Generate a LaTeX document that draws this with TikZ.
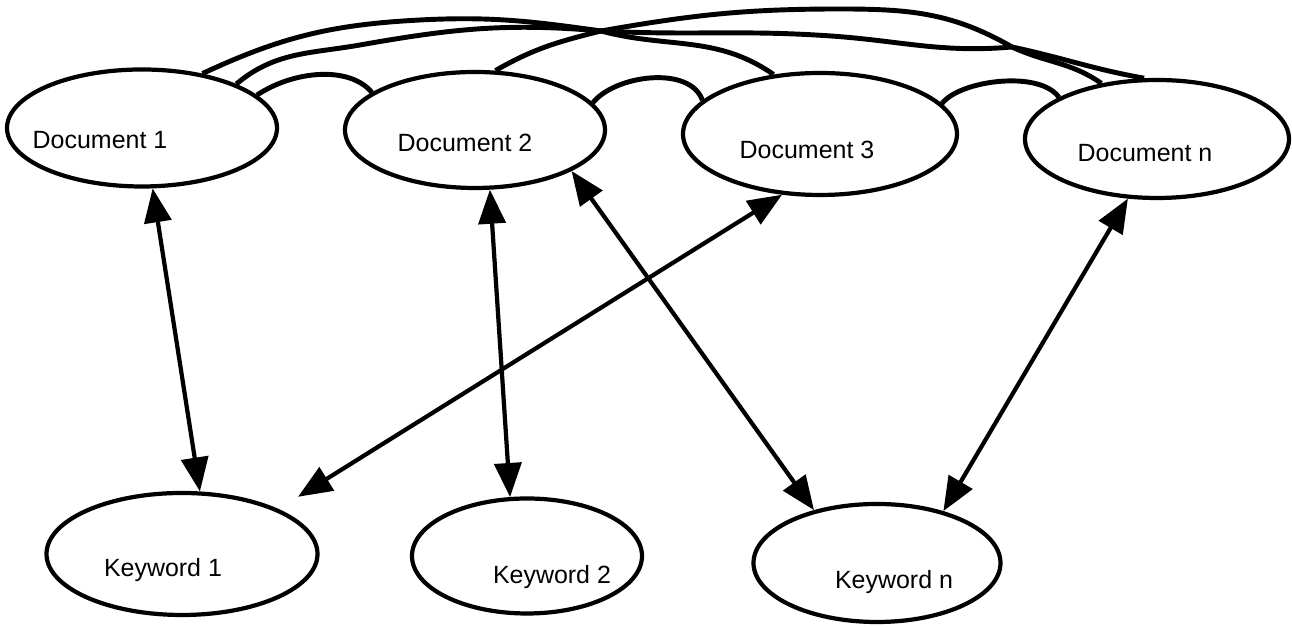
\documentclass[tikz,border=0pt]{standalone}
\usepackage{fontspec}
\setmainfont{Liberation Sans}
\usetikzlibrary{arrows.meta, shapes.geometric}

\begin{document}
\begin{tikzpicture}
		\tikzstyle{docnode} = [shape=ellipse, draw=black, very thick, inner sep=0]
		\tikzstyle{lbl} = [font=\fontsize{7.1}{8.5}\selectfont, inner sep=0]
		\tikzstyle{biarrow} = [>={Triangle[length=3.4mm,width=2.7mm]}, <->, very thick]
		\tikzstyle{link} = [draw, line width=1.4pt]
		\useasboundingbox (0,0) rectangle (12.92,6.27);
		\fill [white] (0,0) rectangle (12.92,6.27);
		% documents
		\node [docnode, minimum width=2.70cm, minimum height=1.17cm, label={[lbl, shift={(-0.42,-0.12)}]center:Document 1}] (doc1) at (1.42,4.99) {};
		\node [docnode, minimum width=2.60cm, minimum height=1.16cm, label={[lbl, shift={(-0.10,-0.13)}]center:Document 2}] (doc2) at (4.75,4.97) {};
		\node [docnode, minimum width=2.74cm, minimum height=1.22cm, label={[lbl, shift={(-0.13,-0.16)}]center:Document 3}] (doc3) at (8.20,4.93) {};
		\node [docnode, minimum width=2.64cm, minimum height=1.18cm, label={[lbl, shift={(-0.12,-0.14)}]center:Document n}] (docn) at (11.57,4.88) {};
		% keywords
		\node [docnode, minimum width=2.71cm, minimum height=1.22cm, label={[lbl, shift={(-0.19,-0.16)}]center:Keyword 1}] (kw1) at (1.82,0.73) {};
		\node [docnode, minimum width=2.30cm, minimum height=1.15cm, label={[lbl, shift={(0.25,-0.21)}]center:Keyword 2}] (kw2) at (5.27,0.71) {};
		\node [docnode, minimum width=2.47cm, minimum height=1.18cm, label={[lbl, shift={(0.17,-0.19)}]center:Keyword n}] (kwn) at (8.77,0.64) {};
		% links between documents
		\coordinate (cross1) at (6.01,5.96);
		\coordinate (cross2) at (10.12,5.80);
		\draw [link] (doc1.16) .. controls (2.95,5.57) and (3.50,5.61) .. (doc2.160);
		\draw [link] (doc2.13) .. controls (6.15,5.52) and (6.90,5.62) .. (doc3.164);
		\draw [link] (doc3.14) .. controls (9.60,5.47) and (10.40,5.57) .. (docn.157);
		\draw [link] (doc1.42) to[out=25,in=183] (4.20,6.07) to[out=3,in=172] (cross1)
			to[out=-3,in=176] (8.31,5.91) to[out=-4,in=185] (cross2) to[out=-25,in=145] (docn.135);
		\draw [link] (doc1.25) to[out=40,in=190] (3.60,5.82) to[out=10,in=175] (cross1) to[out=-15,in=145] (doc3.128);
		\draw [link] (doc2.71) to[out=30,in=194] (cross1) to[out=10,in=180] (8.40,6.18)
			to[out=0,in=150] (cross2) to[out=-12,in=170] (docn.102);
		% document <-> keyword
		\draw [biarrow] (doc1.-80) -- (kw1.74);
		\draw [biarrow] (doc2.-76) -- (kw2.106);
		\draw [biarrow] (doc2.-23) -- (kwn.140);
		\draw [biarrow, shorten <=2.3mm] (kw1.25) -- (doc3.-122);
		\draw [biarrow] (docn.-116) -- (kwn.38);
\end{tikzpicture}
\end{document}
